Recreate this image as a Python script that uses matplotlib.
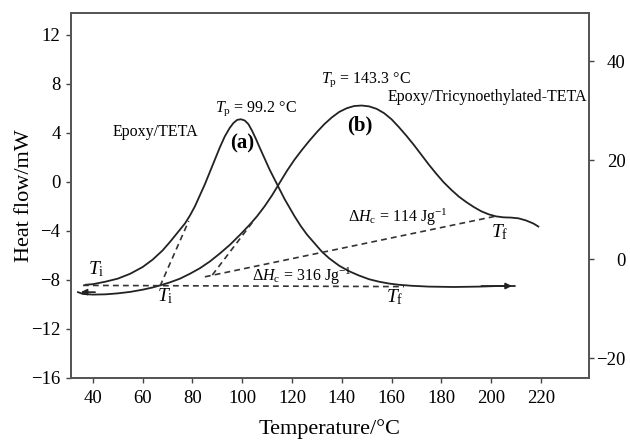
import matplotlib
matplotlib.use("Agg")
import matplotlib.pyplot as plt

plt.rcParams["font.family"] = ["Liberation Serif", "DejaVu Serif"]
plt.rcParams["mathtext.fontset"] = "custom"
plt.rcParams["mathtext.rm"] = "Liberation Serif"
plt.rcParams["mathtext.it"] = "Liberation Serif:italic"
plt.rcParams["mathtext.bf"] = "Liberation Serif:bold"

# curve (a): Epoxy/TETA
temp_a = [37, 40, 45, 50, 55, 60, 64, 68, 71, 74, 77, 79, 81, 83, 85, 87, 89,
          91, 93, 95, 96.5, 98, 99.5, 101, 102.5, 104, 105.5, 107, 109, 111,
          113, 115, 117, 119, 121, 123.5, 126, 129, 132, 135, 139, 143, 147,
          151, 155, 159, 163, 168, 175, 185, 195, 203, 209.5]
hf_a = [-8.4, -8.35, -8.15, -7.9, -7.5, -6.95, -6.35, -5.6, -4.9, -4.15, -3.4,
        -2.75, -2.0, -1.1, -0.2, 0.8, 1.8, 2.8, 3.7, 4.4, 4.8, 5.05, 5.1, 5.0,
        4.7, 4.15, 3.5, 2.8, 1.9, 1.0, 0.2, -0.6, -1.4, -2.1, -2.8, -3.6, -4.3,
        -5.0, -5.7, -6.25, -6.85, -7.3, -7.65, -7.95, -8.15, -8.3, -8.4,
        -8.48, -8.55, -8.58, -8.55, -8.5, -8.5]

# curve (b): Epoxy/Tricynoethylated-TETA
temp_b = [34, 36, 40, 45, 50, 55, 60, 64, 67, 71, 75, 79, 83, 87, 91, 95, 99,
          103, 106, 109, 112, 115, 118, 121, 124, 127, 130, 133, 136, 139, 142,
          145, 148, 151, 154, 157, 160, 163, 166, 169, 172, 175, 178, 181, 184,
          187, 190, 193, 196, 199, 202, 205, 208, 211, 214, 217, 219]
hf_b = [-9.0, -9.15, -9.2, -9.18, -9.1, -8.98, -8.8, -8.62, -8.45, -8.2, -7.9,
        -7.5, -7.05, -6.5, -5.85, -5.15, -4.35, -3.5, -2.8, -2.0, -1.1, -0.1,
        0.9, 1.8, 2.6, 3.35, 4.05, 4.7, 5.25, 5.7, 6.0, 6.18, 6.22, 6.15, 5.95,
        5.6, 5.1, 4.45, 3.75, 3.0, 2.2, 1.4, 0.65, -0.05, -0.65, -1.2, -1.65,
        -2.05, -2.4, -2.65, -2.82, -2.9, -2.92, -2.98, -3.15, -3.4, -3.65]

# dashed construction lines (temperature, heat flow)
base_a_t = [36, 165]
base_a_hf = [-8.45, -8.55]
tang_a_t = [67, 78.5]
tang_a_hf = [-8.5, -3.2]
tang_b_t = [88, 104.5]
tang_b_hf = [-7.6, -3.2]
base_b_t = [85, 202]
base_b_hf = [-7.75, -2.8]

x_ticks = [40, 60, 80, 100, 120, 140, 160, 180, 200, 220]
y_ticks = [-16, -12, -8, -4, 0, 4, 8, 12]
y2_ticks = [-20, 0, 20, 40]

fig = plt.figure(figsize=(6.3, 4.4), dpi=100)
ax = fig.add_axes([0.1127, 0.141, 0.822, 0.829])

line_kw = dict(color="#222222", lw=1.3)
dash_kw = dict(color="#333333", lw=1.2, linestyle=(0, (3.5, 2.5)))

ax.plot(temp_a, hf_a, **line_kw)
ax.plot(temp_b, hf_b, **line_kw)
ax.plot(base_a_t, base_a_hf, **dash_kw)
ax.plot(tang_a_t, tang_a_hf, **dash_kw)
ax.plot(tang_b_t, tang_b_hf, **dash_kw)
ax.plot(base_b_t, base_b_hf, **dash_kw)

arrow_kw = dict(arrowstyle="-|>", color="#222222", lw=1.2, mutation_scale=9)
ax.annotate("", xy=(temp_a[-1], hf_a[-1]), xytext=(temp_a[-3], hf_a[-1]),
            arrowprops=arrow_kw)
ax.annotate("", xy=(temp_b[0], hf_b[0]), xytext=(temp_b[2] + 2, hf_b[0]),
            arrowprops=arrow_kw)

ax.set_xlim(31.2, 239.3)
ax.set_ylim(-16, 13.75)
ax.set_xticks(x_ticks)
ax.set_yticks(y_ticks)
ax.tick_params(direction="out", length=3.5, width=1, labelsize=13.5,
               color="#444444")
ax.tick_params(axis="y", pad=4)
ax.tick_params(axis="x", pad=5)
for s in ax.spines.values():
    s.set_color("#555555")
    s.set_linewidth(1.3)

ax.set_xlabel("Temperature/°C", fontsize=16, labelpad=9)
ax.set_ylabel("Heat flow/mW", fontsize=16, labelpad=-2)

ax2 = ax.twinx()
ax2.set_ylim(-24, 49.7)
ax2.set_yticks(y2_ticks)
ax2.tick_params(direction="out", length=3.5, width=1, labelsize=13.5,
                pad=23, color="#444444")
for lbl in ax2.get_yticklabels():
    lbl.set_horizontalalignment("right")
for s in ax2.spines.values():
    s.set_color("#555555")
    s.set_linewidth(1.3)

fs = 11.5
ax.text(48, 4.1, "Epoxy/TETA", fontsize=fs, va="center", ha="left")
ax.text(89, 6.0, r"$T_{\mathrm{p}}$ = 99.2 °C", fontsize=fs, va="center", ha="left")
ax.text(99.8, 3.1, "(a)", fontsize=15, fontweight="bold", va="center", ha="center")
ax.text(147.2, 4.6, "(b)", fontsize=15, fontweight="bold", va="center", ha="center")
ax.text(131.5, 8.3, r"$T_{\mathrm{p}}$ = 143.3 °C", fontsize=fs, va="center", ha="left")
ax.text(158.5, 6.9, "Epoxy/Tricynoethylated-TETA", fontsize=fs, va="center", ha="left")
ax.text(142.4, -2.9, r"Δ$H_{\mathrm{c}}$ = 114 Jg$^{-1}$", fontsize=fs, va="center", ha="left")
ax.text(104, -7.75, r"Δ$H_{\mathrm{c}}$ = 316 Jg$^{-1}$", fontsize=fs, va="center", ha="left")
ax.text(41.4, -7.1, r"$T_{\mathrm{i}}$", fontsize=14, va="center", ha="center")
ax.text(69, -9.3, r"$T_{\mathrm{i}}$", fontsize=14, va="center", ha="center")
ax.text(203.5, -4.1, r"$T_{\mathrm{f}}$", fontsize=14, va="center", ha="center")
ax.text(161.3, -9.4, r"$T_{\mathrm{f}}$", fontsize=14, va="center", ha="center")

fig.savefig("out.png", dpi=100)
